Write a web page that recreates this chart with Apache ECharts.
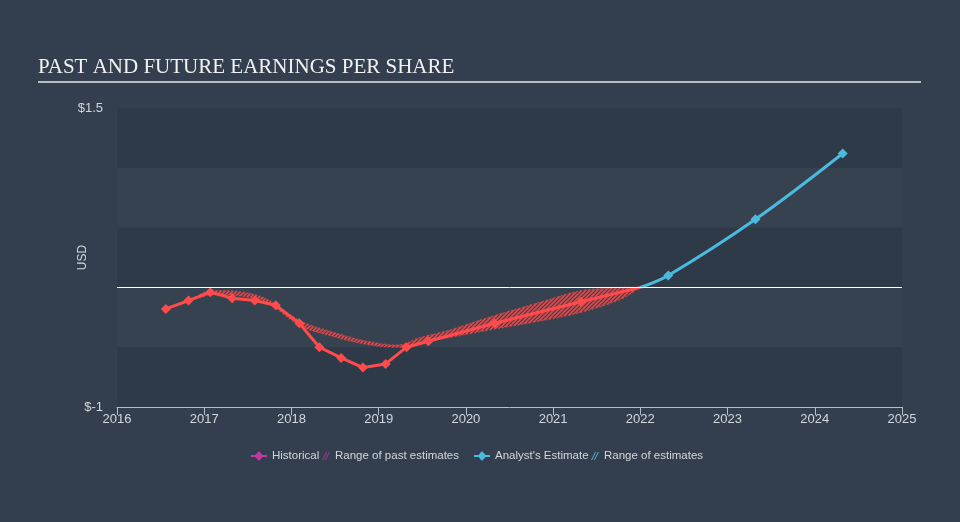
<!DOCTYPE html>
<html>
<head>
<meta charset="utf-8">
<script src="https://cdn.jsdelivr.net/npm/echarts@6/dist/echarts.min.js"></script>
<style>
  html, body { margin: 0; padding: 0; background: #333f4e; }
  #chart { width: 960px; height: 522px; }
</style>
</head>
<body>
<div id="chart"></div>
<script>
// ---- data ----
const histYears = [2016.56, 2016.82, 2017.07, 2017.32, 2017.58, 2017.82, 2018.09, 2018.32, 2018.57, 2018.82, 2019.08, 2019.32, 2019.57, 2020.33, 2021.32, 2022.0];
const histEps   = [-0.18, -0.11, -0.04, -0.09, -0.11, -0.15, -0.30, -0.50, -0.59, -0.67, -0.64, -0.50, -0.45, -0.30, -0.12, 0.0];

const futYears = [2022.0, 2022.32, 2023.32, 2024.32];
const futEps   = [0.0, 0.10, 0.57, 1.12];

const pastRangeYears = [2016.95, 2017.07, 2017.44, 2017.72, 2018.1, 2018.48, 2018.86, 2019.24, 2019.47, 2019.8, 2020.31, 2020.85, 2021.31, 2021.77, 2022.0];
const pastRangeLow   = [-0.085, -0.06, -0.075, -0.125, -0.32, -0.41, -0.475, -0.50, -0.46, -0.42, -0.35, -0.28, -0.21, -0.10, 0.0];
const pastRangeHigh  = [-0.06, -0.03, -0.04, -0.10, -0.28, -0.375, -0.45, -0.48, -0.42, -0.36, -0.24, -0.125, -0.03, 0.0, 0.0];

const yearTicks = [2016, 2017, 2018, 2019, 2020, 2021, 2022, 2023, 2024, 2025];
const yLabelValues = [1.5, -1];

const titleText = 'PAST AND FUTURE EARNINGS PER SHARE';

// ---- styles ----
const RED = '#ff4b4b';
const BLUE = '#4cb9df';
const TXT = '#d3d7dc';
const FONT = '"Liberation Sans", Arial, sans-serif';

function hatch(color) {
  const c = document.createElement('canvas');
  c.width = 4; c.height = 4;
  const g = c.getContext('2d');
  g.strokeStyle = color;
  g.lineWidth = 1.6;
  g.beginPath();
  g.moveTo(-1, 5); g.lineTo(5, -1);
  g.moveTo(-1, 1); g.lineTo(1, -1);
  g.moveTo(3, 5); g.lineTo(5, 3);
  g.stroke();
  return c;
}
const pastPattern = hatch('rgba(255,75,75,0.85)');

const histData = histYears.map((x, i) => {
  const d = { value: [x, histEps[i]] };
  if (i === histYears.length - 1) d.symbol = 'none';
  return d;
});
const futData = futYears.map((x, i) => {
  const d = { value: [x, futEps[i]] };
  if (i === 0) d.symbol = 'none';
  return d;
});
const bandData = pastRangeYears.map((x, i) => [x, pastRangeLow[i], pastRangeHigh[i]]);

const chart = echarts.init(document.getElementById('chart'), null, { renderer: 'canvas' });

const legendBase = {
  top: 445, itemHeight: 10, orient: 'horizontal',
  textStyle: { color: TXT, fontSize: 11.5, fontFamily: FONT },
  selectedMode: false
};
const diamondIcon = 'path://M0,4 L4.5,4 L8,0 L11.5,4 L16,4 L16,6 L11.5,6 L8,10 L4.5,6 L0,6 Z';
const hatchIcon = 'path://M0,10 L5,0 L6.5,0 L1.5,10 Z M3.5,10 L8.5,0 L10,0 L5,10 Z';

const option = {
  backgroundColor: '#333f4e',
  animation: false,
  grid: { left: 117, right: 58, top: 108, bottom: 115, containLabel: false },
  graphic: [
    { type: 'text', left: 38, top: 57, style: { text: titleText, fill: '#f2f2f2', font: '21px "Liberation Serif", "Times New Roman", serif' } },
    { type: 'line', shape: { x1: 38, y1: 82, x2: 921, y2: 82 }, style: { stroke: '#b8bdc4', lineWidth: 2 } }
  ],
  legend: [
    Object.assign({}, legendBase, { left: 246, itemWidth: 16, data: [{ name: 'Historical', icon: diamondIcon, itemStyle: { color: '#c4399f' } }] }),
    Object.assign({}, legendBase, { left: 317, itemWidth: 8, data: [{ name: 'Range of past estimates', icon: hatchIcon, itemStyle: { color: '#8f3c80' } }] }),
    Object.assign({}, legendBase, { left: 469, itemWidth: 16, data: [{ name: "Analyst's Estimate", icon: diamondIcon, itemStyle: { color: BLUE } }] }),
    Object.assign({}, legendBase, { left: 586, itemWidth: 8, data: [{ name: 'Range of estimates', icon: hatchIcon, itemStyle: { color: '#4a9fc4' } }] })
  ],
  xAxis: {
    type: 'value', min: 2016, max: 2025, interval: 1,
    axisLine: { show: true, onZero: false, lineStyle: { color: '#b5bdc6', width: 1 } },
    axisTick: { show: true, length: 8, lineStyle: { color: '#b5bdc6' } },
    splitLine: { show: false },
    axisLabel: { color: TXT, fontSize: 13, fontFamily: FONT, margin: 6, formatter: v => String(v) }
  },
  yAxis: {
    type: 'value', min: -1, max: 1.5, interval: 0.5,
    name: 'USD', nameLocation: 'middle', nameGap: 28, nameRotate: 90, nameMoveOverlap: false,
    nameTextStyle: { color: TXT, fontSize: 12, fontFamily: FONT },
    axisLine: { show: false }, axisTick: { show: false },
    splitLine: { show: false },
    splitArea: { show: true, areaStyle: { color: ['#2e3a48', '#36424f'] } },
    axisLabel: {
      color: TXT, fontSize: 13, fontFamily: FONT, margin: 14,
      formatter: v => (yLabelValues.some(t => Math.abs(t - v) < 1e-9) ? '$' + v : '')
    }
  },
  series: [
    {
      name: 'Range of estimates', type: 'line', data: [], symbol: 'none', z: 1,
      markLine: {
        silent: true, symbol: 'none', label: { show: false },
        lineStyle: { color: '#ffffff', width: 1, type: 'solid' },
        data: [{ yAxis: 0 }]
      }
    },
    {
      name: 'Range of past estimates', type: 'custom', z: 2, silent: true,
      data: bandData,
      encode: { x: 0, y: [1, 2] },
      renderItem: function (params, api) {
        if (params.dataIndex !== 0) return null;
        const upper = [], lower = [];
        for (let i = 0; i < bandData.length; i++) {
          upper.push(api.coord([bandData[i][0], bandData[i][2]]));
          lower.push(api.coord([bandData[i][0], bandData[i][1]]));
        }
        const pts = upper.concat(lower.reverse());
        return {
          type: 'polygon',
          shape: { points: pts, smooth: 0.35 },
          style: { fill: { image: pastPattern, repeat: 'repeat' }, stroke: 'rgba(255,75,75,0.55)', lineWidth: 1.5, lineDash: [2, 2] }
        };
      }
    },
    {
      name: 'Historical', type: 'line', data: histData,
      symbol: 'diamond', symbolSize: 10,
      lineStyle: { color: RED, width: 3 }, itemStyle: { color: RED }, z: 4
    },
    {
      name: "Analyst's Estimate", type: 'line', data: futData, smooth: 0.35,
      symbol: 'diamond', symbolSize: 10,
      lineStyle: { color: BLUE, width: 3 }, itemStyle: { color: BLUE }, z: 3
    }
  ]
};
chart.setOption(option);
</script>
</body>
</html>
